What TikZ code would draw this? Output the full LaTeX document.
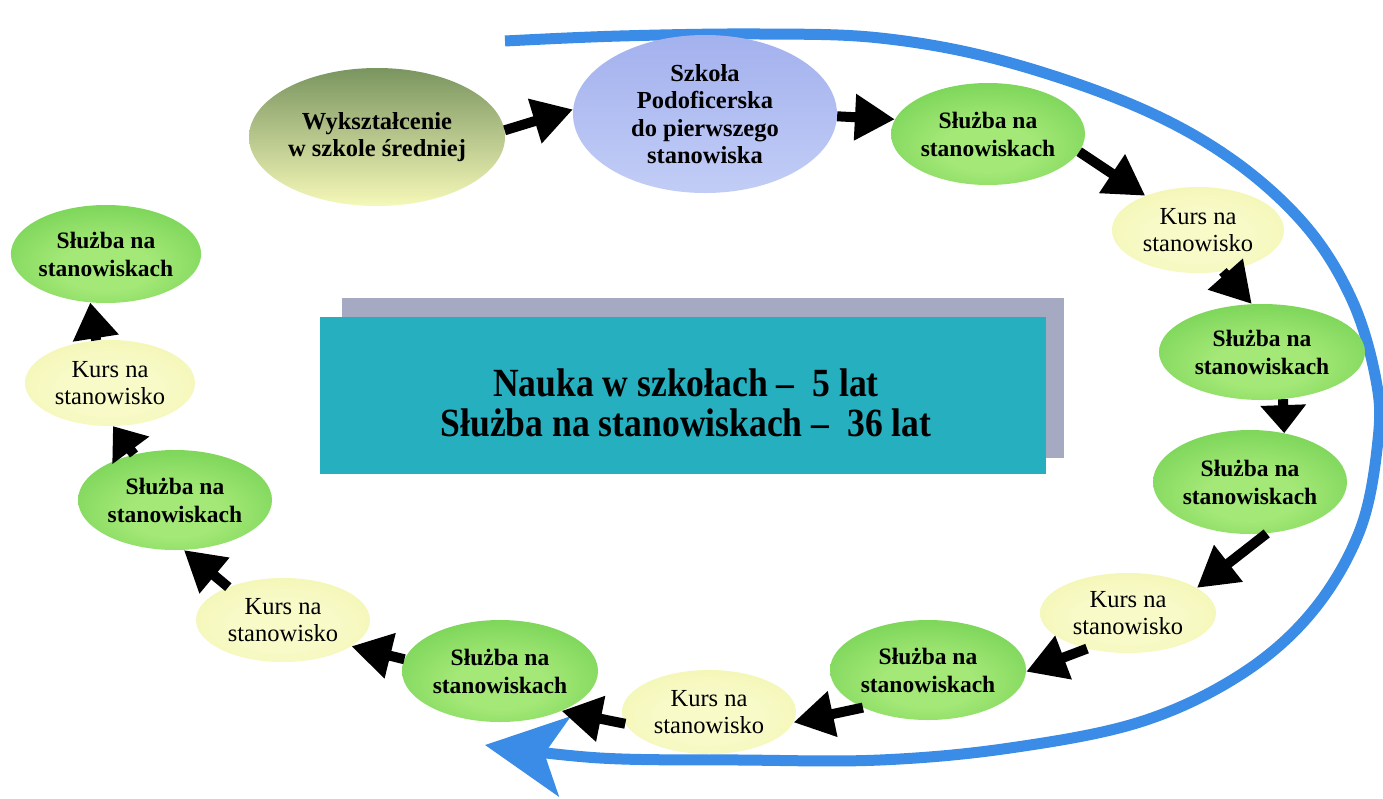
\documentclass[tikz,border=0pt]{standalone}
\usepackage{fontspec}
\setmainfont{Liberation Serif}
\newfontfamily\boxfont[FakeStretch=0.89]{Liberation Serif}
\usetikzlibrary{shapes.geometric, arrows.meta}

% palette
\definecolor{grnIn}{HTML}{A4E877}
\definecolor{grnOut}{HTML}{52C23A}
\definecolor{ylwIn}{HTML}{F8FAC8}
\definecolor{ylwOut}{HTML}{EEF29C}
\definecolor{ringBlue}{HTML}{3A8CE6}
\definecolor{boxCyan}{HTML}{25AFBF}
\definecolor{boxShadow}{HTML}{A6A9C2}
\definecolor{oliveTop}{HTML}{7A9560}
\definecolor{oliveMid}{HTML}{C2D38C}
\definecolor{oliveBot}{HTML}{F5F8B8}
\definecolor{lavTop}{HTML}{A3B1EE}
\definecolor{lavBot}{HTML}{C2CDF6}

% soft glow fills for the oval stages
\pgfdeclareradialshading{grnglow}{\pgfpoint{0bp}{-8bp}}{%
  color(0bp)=(grnIn); color(12bp)=(grnIn); color(50bp)=(grnOut); color(75bp)=(grnOut)}
\pgfdeclareradialshading{ylwglow}{\pgfpoint{0bp}{-4bp}}{%
  color(0bp)=(ylwIn); color(15bp)=(ylwIn); color(50bp)=(ylwOut); color(75bp)=(ylwOut)}

\begin{document}
\begin{tikzpicture}[x=1pt, y=-1pt,
  ell/.style n args={2}{ellipse, minimum width=#1pt, minimum height=#2pt, inner sep=0pt, align=center},
  svcnode/.style={shading=grnglow, font=\fontsize{23.5}{28}\selectfont\bfseries},
  kursnode/.style={shading=ylwglow, font=\fontsize{24.5}{27}\selectfont},
  topnode/.style={font=\fontsize{24.5}{27.5}\selectfont\bfseries},
  conn/.style={draw=black, line width=10pt, -{Triangle[length=#1, width=44pt]}},
  conn/.default=40pt,
  ring/.style={draw=ringBlue, line width=11pt, -{Stealth[length=80pt, width=80pt, inset=20pt]}}
]
\useasboundingbox (0,0) rectangle (1383,798);
\fill[white] (0,0) rectangle (1383,798);

% big return loop around the career path
\draw[ring] plot[smooth, tension=0.6] coordinates {
  (505,41) (620,36) (760,34) (880,38) (1000,60) (1133,105) (1230,158)
  (1305,225) (1352,300) (1376,380) (1378,440) (1360,530) (1312,612)
  (1240,675) (1140,722) (1010,748) (880,760) (740,760) (600,758) (485,745)};

% summary panel with its offset backing
\node[fill=boxShadow, minimum width=722pt, minimum height=160pt, inner sep=0pt] (panelback) at (703,378) {};
\node[fill=boxCyan, minimum width=726pt, minimum height=157pt, inner sep=0pt] (panel) at (683,395.5) {};
\node[align=center, font=\boxfont\fontsize{40}{40}\selectfont\bfseries] (paneltext) at (686,403)
  {Nauka w szkołach –~~5 lat\\Służba na stanowiskach –~~36 lat};

% stages
\node[topnode, ell={256}{138}, top color=oliveTop, middle color=oliveMid, bottom color=oliveBot] (wyk) at (377,137)
  {Wykształcenie\\w szkole średniej};
\node[topnode, ell={264}{158}, top color=lavTop, bottom color=lavBot] (szk) at (705,114)
  {Szkoła\\Podoficerska\\do pierwszego\\stanowiska};

\node[svcnode, ell={194}{102}] (s1) at (988,134) {Służba na\\stanowiskach};
\node[kursnode, ell={172}{86}] (k1) at (1198,230) {Kurs na\\stanowisko};
\node[svcnode, ell={206}{96}] (s2) at (1262,352) {Służba na\\stanowiskach};
\node[svcnode, ell={194}{104}] (s3) at (1250,482) {Służba na\\stanowiskach};
\node[kursnode, ell={176}{80}] (k2) at (1128,613) {Kurs na\\stanowisko};
\node[svcnode, ell={196}{100}] (s4) at (928,670) {Służba na\\stanowiskach};
\node[kursnode, ell={174}{84}] (k3) at (709,712) {Kurs na\\stanowisko};
\node[svcnode, ell={196}{102}] (s5) at (500,671) {Służba na\\stanowiskach};
\node[kursnode, ell={174}{84}] (k4) at (283,620) {Kurs na\\stanowisko};
\node[svcnode, ell={194}{100}] (s6) at (175,500) {Służba na\\stanowiskach};
\node[kursnode, ell={170}{86}] (k5) at (110,383) {Kurs na\\stanowisko};
\node[svcnode, ell={188}{98}] (s7) at (106,254) {Służba na\\stanowiskach};

% progression arrows
\draw[conn] (wyk.3) -- (szk.178);
\draw[conn] (szk.-1) -- (s1.171);
\draw[conn] (s1.-11) -- (k1.147);
\draw[conn] (k1.-59) -- (s2.102);
\draw[conn=28pt] (s2.-66) -- (s3.55);
\draw[conn] (s3.-72) -- (k2.20);
\draw[conn] (k2.-139) -- (s4.-1);
\draw[conn] (s4.-150) -- (k3.-7);
\draw[conn] (k3.-172) -- (s5.-33);
\draw[conn] (s5.173) -- (k4.-21);
\draw[conn] (k4.149) -- (s6.-80);
\draw[conn=30pt] (s6.132) -- (k5.-86);
\draw[conn=36pt] (k5.108) -- (s7.-108);
\end{tikzpicture}
\end{document}
